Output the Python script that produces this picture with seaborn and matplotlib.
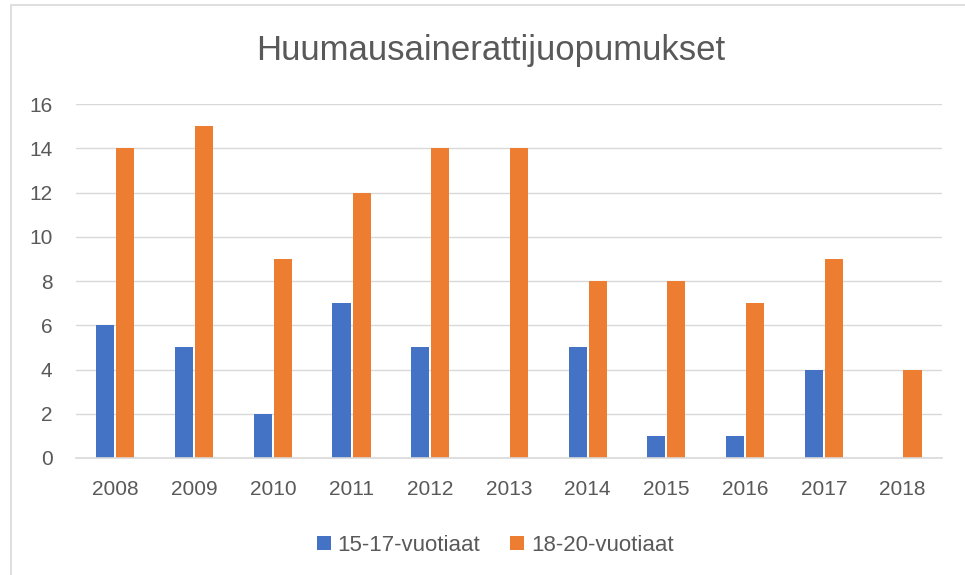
import pandas as pd
import matplotlib.pyplot as plt
import seaborn as sns
from matplotlib.patches import Rectangle

years = ["2008", "2009", "2010", "2011", "2012", "2013", "2014", "2015", "2016", "2017", "2018"]
age_15_17 = [6, 5, 2, 7, 5, 0, 5, 1, 1, 4, 0]
age_18_20 = [14, 15, 9, 12, 14, 14, 8, 8, 7, 9, 4]
groups = ["15-17-vuotiaat", "18-20-vuotiaat"]
colors = ["#4472C4", "#ED7D31"]

df = pd.DataFrame({
    "Vuosi": years * 2,
    "Määrä": age_15_17 + age_18_20,
    "Ryhmä": [groups[0]] * len(years) + [groups[1]] * len(years),
})

sns.set_style("white")
plt.rcParams["font.family"] = ["Liberation Sans", "DejaVu Sans"]
text_col = "#595959"

fig = plt.figure(figsize=(9.65, 5.75), dpi=100)
ax = fig.add_axes([0.0788, 0.2035, 0.8972, 0.6155])

sns.barplot(data=df, x="Vuosi", y="Määrä", hue="Ryhmä", palette=colors, saturation=1,
            width=0.51, gap=0.1, linewidth=0, ax=ax, legend=True)

ax.set_ylim(0, 16)
ax.set_xlim(-0.5, len(years) - 0.5)
ax.set_yticks(range(0, 17, 2))
ax.yaxis.grid(True, color="#D9D9D9", linewidth=1.0)
ax.set_axisbelow(True)
for s in ["top", "right", "left"]:
    ax.spines[s].set_visible(False)
ax.spines["bottom"].set_color("#D9D9D9")
ax.spines["bottom"].set_linewidth(1.2)
ax.tick_params(axis="both", length=0, labelsize=15, labelcolor=text_col)
ax.tick_params(axis="y", pad=17)
ax.tick_params(axis="x", pad=16)
ax.set_xlabel("")
ax.set_ylabel("")

ax.legend(loc="upper center", bbox_to_anchor=(0.484, -0.16), ncol=2, frameon=False,
          fontsize=16, labelcolor=text_col, handlelength=0.63, handleheight=0.63,
          handletextpad=0.3, columnspacing=1.35)

fig.text(0.508, 0.912, "Huumausainerattijuopumukset", ha="center", va="center",
         fontsize=25, color=text_col)

fig.patches.append(Rectangle((11 / 965, -0.1), 1.2, 1 - 5 / 575 + 0.1, transform=fig.transFigure,
                             fill=False, edgecolor="#D9D9D9", linewidth=1.2))

plt.savefig("out.png", dpi=100)
